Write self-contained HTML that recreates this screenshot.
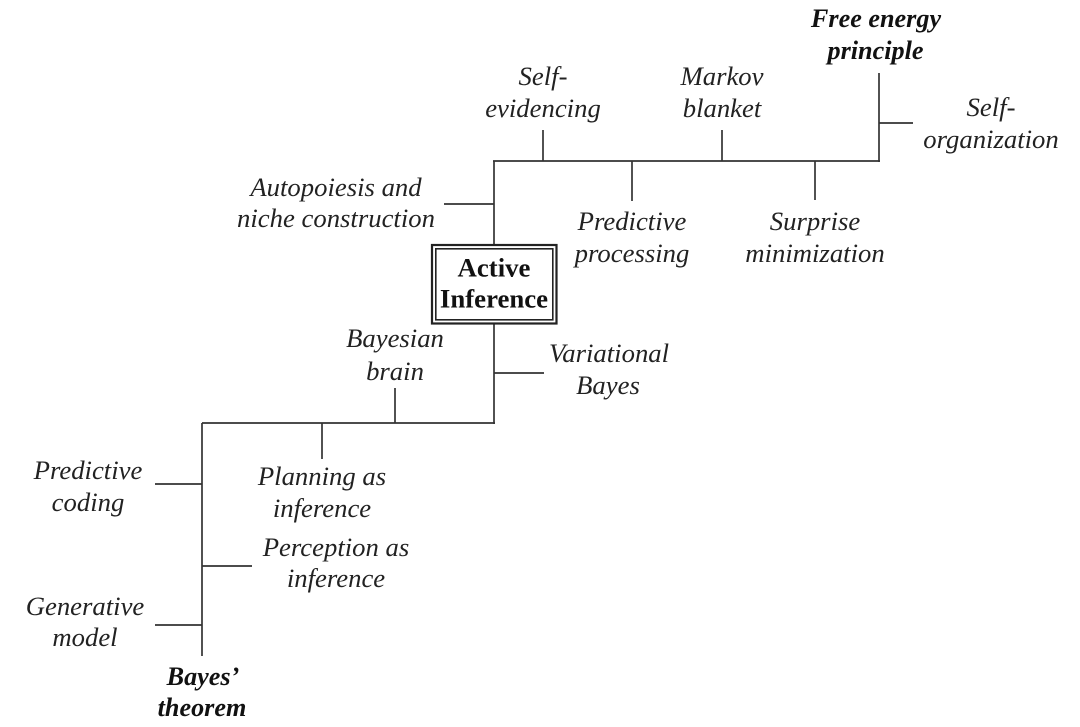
<!DOCTYPE html>
<html>
<head>
<meta charset="utf-8">
<style>
html,body{margin:0;padding:0;background:#fff;}
svg{display:block;filter:blur(0.35px);}
text{font-family:"Liberation Serif",serif;font-size:26.7px;font-style:italic;fill:#222;text-anchor:middle;}
.b{font-weight:bold;fill:#111;font-size:26.2px;}
.c{font-style:normal;font-weight:bold;fill:#111;font-size:26.8px;}
line{stroke:#333;stroke-width:1.7;}
</style>
</head>
<body>
<svg width="1080" height="727" viewBox="0 0 1080 727" xmlns="http://www.w3.org/2000/svg">
<line x1="494" y1="161" x2="494" y2="245"/>
<line x1="493" y1="161" x2="880" y2="161"/>
<line x1="879" y1="73" x2="879" y2="162"/>
<line x1="879" y1="123" x2="913" y2="123"/>
<line x1="543" y1="130" x2="543" y2="161"/>
<line x1="722" y1="130" x2="722" y2="161"/>
<line x1="632" y1="161" x2="632" y2="201"/>
<line x1="815" y1="161" x2="815" y2="200"/>
<line x1="444" y1="204" x2="494" y2="204"/>
<line x1="494" y1="324" x2="494" y2="424"/>
<line x1="494" y1="373" x2="544" y2="373"/>
<line x1="202" y1="423" x2="495" y2="423"/>
<line x1="395" y1="388" x2="395" y2="423"/>
<line x1="322" y1="423" x2="322" y2="459"/>
<line x1="202" y1="423" x2="202" y2="656"/>
<line x1="155" y1="484" x2="202" y2="484"/>
<line x1="202" y1="566" x2="252" y2="566"/>
<line x1="155" y1="625" x2="202" y2="625"/>
<rect x="432" y="245" width="124.500" height="78.500" fill="none" stroke="#222" stroke-width="2.200"/>
<rect x="435.800" y="248.800" width="117" height="71" fill="none" stroke="#222" stroke-width="1.600"/>
<text class="c" x="494" y="276.500">Active</text>
<text class="c" x="494" y="307.500">Inference</text>
<text class="b" x="876" y="27">Free energy</text>
<text class="b" x="875.500" y="59">principle</text>
<text x="991" y="116">Self-</text>
<text x="991" y="148">organization</text>
<text x="543" y="85">Self-</text>
<text x="543" y="117">evidencing</text>
<text x="722" y="85">Markov</text>
<text x="722" y="117">blanket</text>
<text x="336" y="196">Autopoiesis and</text>
<text x="336" y="227">niche construction</text>
<text x="632" y="230">Predictive</text>
<text x="632" y="262">processing</text>
<text x="815" y="230">Surprise</text>
<text x="815" y="262">minimization</text>
<text x="395" y="347">Bayesian</text>
<text x="395" y="380">brain</text>
<text x="609" y="362">Variational</text>
<text x="608" y="394">Bayes</text>
<text x="88" y="479">Predictive</text>
<text x="88" y="511">coding</text>
<text x="322" y="485">Planning as</text>
<text x="322" y="517">inference</text>
<text x="336" y="556">Perception as</text>
<text x="336" y="587">inference</text>
<text x="85" y="615">Generative</text>
<text x="85" y="646">model</text>
<text class="b" x="203" y="685">Bayes’</text>
<text class="b" x="202" y="716">theorem</text>
</svg>
</body>
</html>
